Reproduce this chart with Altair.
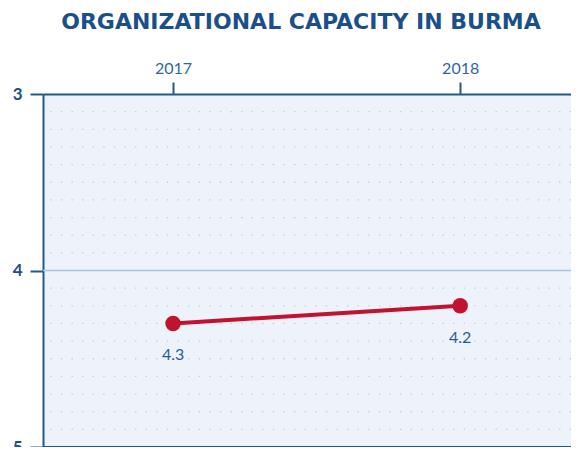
import altair as alt
import pandas as pd

years = [2017, 2018]
scores = [4.3, 4.2]
score_labels = ["4.3", "4.2"]
y_tick_values = [3, 3.5, 4, 4.5, 5]
x_tick_values = [2017, 2018]
dot_grid_values = [3.1, 3.2, 3.3, 3.4, 3.5, 3.6, 3.7, 3.8, 3.9,
                   4.1, 4.2, 4.3, 4.4, 4.5, 4.6, 4.7, 4.8, 4.9]
mid_line_value = [4]
bottom_value = [5]

df = pd.DataFrame({"year": years, "score": scores, "label": score_labels})
grid_df = pd.DataFrame({"score": dot_grid_values})
mid_df = pd.DataFrame({"score": mid_line_value})
bot_df = pd.DataFrame({"score": bottom_value})

DARK = "#24588e"
RED = "#c1122f"
FONT = "Lato"

xscale = alt.Scale(domain=[2016.547, 2018.386], nice=False, zero=False)
yscale = alt.Scale(domain=[3, 5], reverse=True, nice=False, zero=False)

whole = "abs(datum.value - round(datum.value)) < 0.001"

y_axis = alt.Axis(
    values=y_tick_values,
    labelExpr=f"{whole} ? '' + round(datum.value) : ''",
    title=None,
    grid=False,
    tickSize=13,
    tickWidth=2,
    tickColor=DARK,
    tickOpacity={"condition": {"test": whole, "value": 1}, "value": 0},
    domainColor=DARK,
    domainWidth=2,
    labelColor="#1b4f8a",
    labelFont=FONT,
    labelFontSize=17,
    labelFontWeight="bold",
    labelPadding=8,
    labelOverlap=False,
    labelFlush=False,
    minExtent=35,
)

x_axis = alt.Axis(
    orient="top",
    values=x_tick_values,
    format="d",
    title=None,
    grid=False,
    tickSize=12,
    tickWidth=2,
    tickColor=DARK,
    domainColor=DARK,
    domainWidth=2,
    labelColor="#2f66a0",
    labelFont=FONT,
    labelFontSize=16,
    labelPadding=6,
    labelOverlap=False,
    labelFlush=False,
)

dots = alt.Chart(grid_df).mark_rule(
    color="#c3cbd6", strokeDash=[1.3, 9.3], strokeWidth=1.3
).encode(y=alt.Y("score:Q", scale=yscale))

mid = alt.Chart(mid_df).mark_rule(color="#a9c4de", strokeWidth=1.6).encode(
    y=alt.Y("score:Q", scale=yscale)
)

bottom = alt.Chart(bot_df).mark_rule(color=DARK, strokeWidth=2).encode(
    y=alt.Y("score:Q", scale=yscale)
)

line = alt.Chart(df).mark_line(color=RED, strokeWidth=4).encode(
    x=alt.X("year:Q", scale=xscale, axis=x_axis),
    y=alt.Y("score:Q", scale=yscale, axis=y_axis),
)

points = alt.Chart(df).mark_circle(size=240, color=RED, opacity=1).encode(
    x=alt.X("year:Q", scale=xscale),
    y=alt.Y("score:Q", scale=yscale),
)

texts = alt.Chart(df).mark_text(
    dy=32, color="#2a5c91", font=FONT, fontSize=16
).encode(
    x=alt.X("year:Q", scale=xscale),
    y=alt.Y("score:Q", scale=yscale),
    text="label:N",
)

chart = alt.layer(dots, mid, bottom, line, points, texts).properties(
    width=528,
    height=353,
    autosize=alt.AutoSizeParams(type="none"),
    padding={"left": 35, "top": 86, "right": 0, "bottom": 0},
    title=alt.TitleParams(
        text="ORGANIZATIONAL CAPACITY IN BURMA",
        font="DejaVu Sans",
        fontSize=22,
        fontWeight="bold",
        color="#1b4f8a",
        anchor="middle",
        offset=26,
        dx=-6,
    ),
).configure_view(fill="#eef3fb", stroke=None)

chart.save("out.html", embed_options={"renderer": "svg", "actions": False})
